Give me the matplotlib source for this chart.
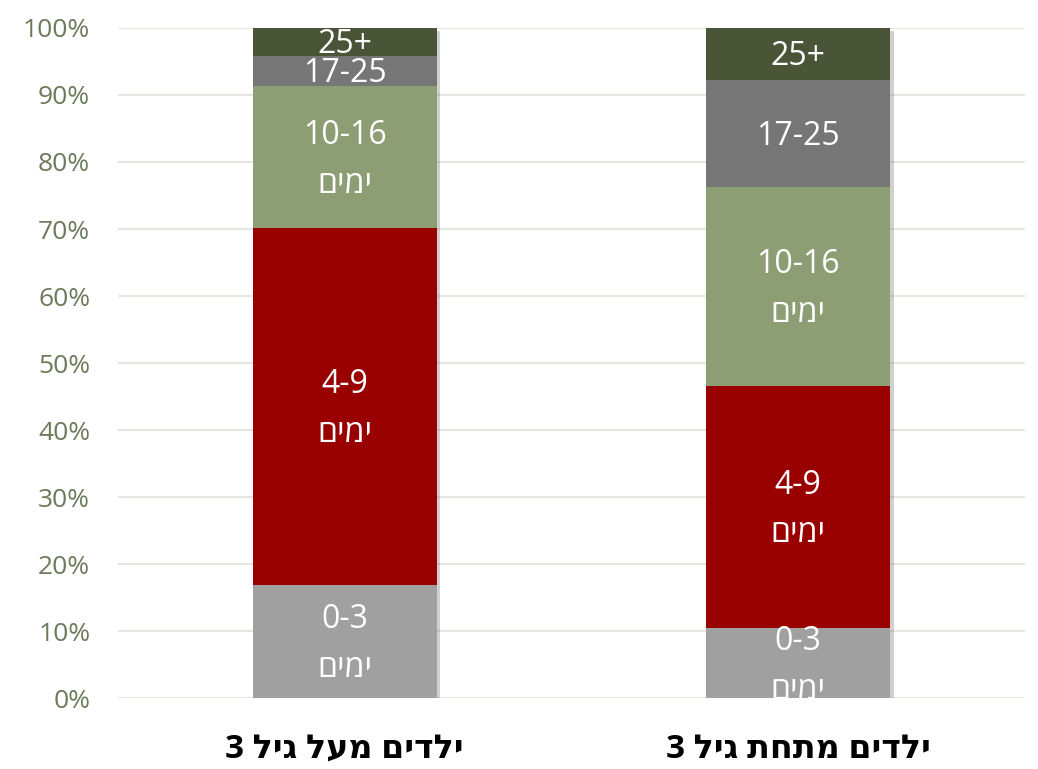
import matplotlib
matplotlib.use("Agg")
import matplotlib.pyplot as plt
import matplotlib.patheffects as pe
import numpy as np

# ---- data ----
categories = ["ילדים מעל גיל 3", "ילדים מתחת גיל 3"]
segment_names = ["0-3\nימים", "4-9\nימים", "10-16\nימים", "17-25", "25+"]
share_over3 = [16.9, 53.2, 21.2, 4.5, 4.2]
share_under3 = [10.4, 36.2, 29.7, 15.9, 7.8]
yticks = [0, 10, 20, 30, 40, 50, 60, 70, 80, 90, 100]
colors = ["#A0A0A0", "#990000", "#8E9E74", "#767676", "#4A5538"]


def rtl(s):
    """Reorder a Hebrew line for a left-to-right renderer."""
    out = []
    for line in s.split("\n"):
        if any("\u0590" <= c <= "\u05FF" for c in line):
            out.append(line[::-1])
        else:
            out.append(line)
    return "\n".join(out)


FONT = ["Open Sans", "DejaVu Sans"]
plt.rcParams["font.family"] = FONT

fig = plt.figure(figsize=(10.38, 7.69), dpi=100)
ax = fig.add_axes([0.1137, 0.0923, 0.8738, 0.8713])

x = np.arange(len(categories))
width = 0.405
data = np.array([share_over3, share_under3])  # shape (cat, seg)

# shadow bars
for i in range(len(categories)):
    ax.bar(x[i], data[i].sum(), width, bottom=0, color="white", zorder=2,
           path_effects=[pe.SimplePatchShadow(offset=(2.5, -2.5), shadow_rgbFace="#666666", alpha=0.3),
                         pe.Normal()])

bottoms = np.zeros(len(categories))
for j, name in enumerate(segment_names):
    vals = data[:, j]
    ax.bar(x, vals, width, bottom=bottoms, color=colors[j], zorder=3, linewidth=0)
    for i in range(len(categories)):
        yc = bottoms[i] + vals[i] / 2
        ax.text(x[i], yc - 0.4, rtl(name), ha="center", va="center", color="white",
                fontsize=23, linespacing=1.62, zorder=4, clip_on=True)
    bottoms += vals

ax.set_xlim(-0.5, 1.5)
ax.set_ylim(0, 100)
ax.set_yticks(yticks)
ax.set_yticklabels([f"{t}%" for t in yticks])
ax.tick_params(axis="y", length=0, labelsize=19, labelcolor="#6B7B5A", pad=20)
ax.set_xticks(x)
ax.set_xticklabels([rtl(c) for c in categories], fontsize=24, fontweight="bold", color="black")
ax.tick_params(axis="x", length=0, pad=25)
ax.grid(axis="y", color="#E6E6DF", linewidth=1.5, zorder=0)
ax.set_axisbelow(True)
for s in ax.spines.values():
    s.set_visible(False)

fig.savefig("out.png", dpi=100)
